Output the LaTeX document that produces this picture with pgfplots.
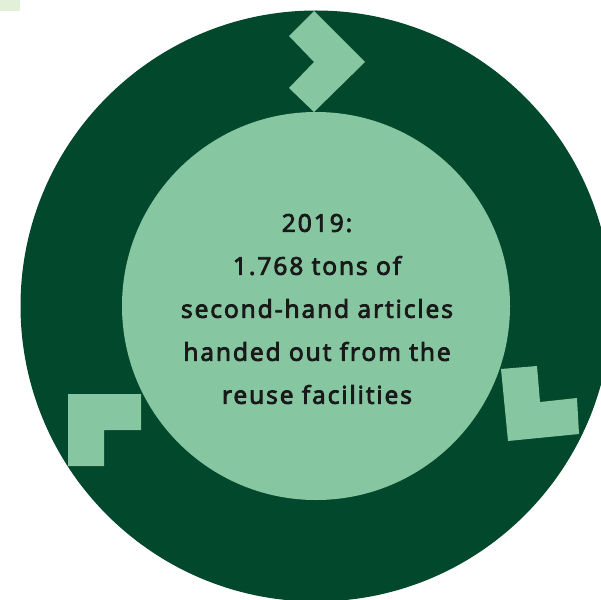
\documentclass[border=0pt]{standalone}
\usepackage{pgfplots}
\pgfplotsset{compat=1.18}
\usepackage{fontspec}
\setmainfont{Open Sans}[FakeBold=3.5, LetterSpace=8]
\definecolor{darkgreen}{HTML}{02482D}
\definecolor{lightgreen}{HTML}{86C6A1}
\definecolor{palegreen}{HTML}{E2F0D9}
\begin{document}
\begin{tikzpicture}
\begin{axis}[
    width=601pt, height=599pt,
    scale only axis,
    hide axis,
    xmin=0, xmax=601,
    ymin=0, ymax=599,
    y dir=reverse,
    clip=true,
]
% corner tab
\addplot[fill=palegreen, draw=none] coordinates {(0,0) (20,0) (20,11) (0,11)} -- cycle;
% rings
\fill[darkgreen] (axis cs:316,306) circle[radius=295.5];
\fill[lightgreen] (axis cs:316,306) circle[radius=194];
% arrows round the ring
\addplot[fill=lightgreen, draw=none] coordinates {
    (314,11) (365,62) (314,112) (289,88) (314,62) (289,36)} -- cycle;
\addplot[fill=lightgreen, draw=none] coordinates {
    (501,369) (537,366) (540,402) (577,398) (579,434) (508,441)} -- cycle;
\addplot[fill=lightgreen, draw=none] coordinates {
    (68,394) (141,394) (141,430) (104,430) (104,466) (68,466)} -- cycle;
\node[align=center, text=black!90, font=\fontsize{24.5}{43}\selectfont]
    at (axis cs:317,309) {2019:\\1.768 tons of\\second-hand articles\\handed out from the\\reuse facilities};
\end{axis}
\pgfresetboundingbox
\useasboundingbox (current axis.south west) rectangle (current axis.north east);
\end{tikzpicture}
\end{document}
